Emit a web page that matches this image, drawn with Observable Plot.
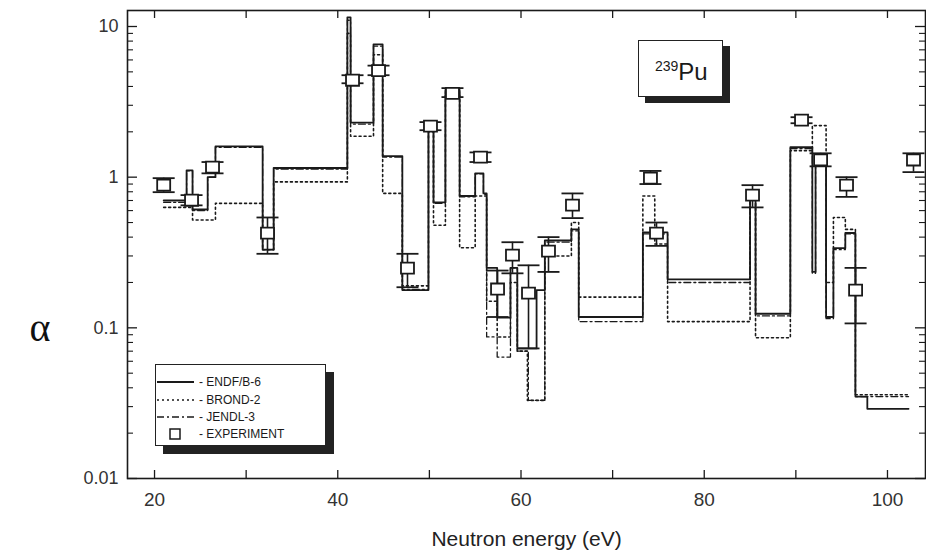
<!DOCTYPE html>
<html><head><meta charset="utf-8">
<script src="https://cdn.jsdelivr.net/npm/d3@7"></script>
<script src="https://cdn.jsdelivr.net/npm/@observablehq/plot@0.6"></script>
<style>
html,body{margin:0;padding:0;background:#fff;}
#wrap{position:relative;width:926px;height:558px;overflow:hidden;font-family:"Liberation Sans",Arial,sans-serif;color:#1a1a1a;}
#legend{position:absolute;left:155px;top:364px;width:171px;height:82px;background:#fff;border:1.5px solid #222;box-shadow:8px 8px 0 #222;box-sizing:border-box;}
.row{position:absolute;left:0;height:16px;display:flex;align-items:center;font-size:12px;white-space:nowrap;}
.row svg{display:block;margin-right:3px;}
#pu{position:absolute;left:638px;top:40px;width:85px;height:57px;background:#fff;border:1.5px solid #222;box-shadow:7px 6px 0 #222;box-sizing:border-box;}
#pu span.t{position:absolute;left:16px;top:17px;font-size:24px;}
#pu sup{font-size:14px;vertical-align:9px;}
</style>
</head><body>
<div id="wrap">
  <div id="chart"></div>
  <div id="pu"><span class="t"><sup>239</sup>Pu</span></div>
  <div id="legend"></div>
</div>
<script>
// ---------- data ----------
// ENDF/B-6 (solid): bin edges (eV) and alpha per bin
const endfEdges = [21.0,23.5,24.15,25.8,26.65,31.8,33.0,41.05,41.4,43.9,44.9,47.05,49.9,50.45,51.75,53.3,55.0,55.9,56.25,57.4,58.85,59.6,61.7,62.6,65.5,66.3,73.3,76.0,85.0,85.6,89.4,91.8,92.15,93.3,94.1,95.4,96.5,97.8,102.3];
const endfVals  = [0.70,1.11,0.61,1.0,1.60,0.33,1.15,11.5,2.3,7.6,1.38,0.178,2.1,0.68,3.8,0.75,1.06,0.78,0.25,0.117,0.25,0.073,0.178,0.38,0.45,0.118,0.43,0.21,0.76,0.124,1.58,0.235,1.4,0.118,0.338,0.426,0.035,0.029];

// BROND-2 (dotted)
const brondEdges = [21.0,24.15,26.65,31.8,33.0,41.05,41.4,43.9,44.9,47.05,49.9,50.45,51.75,53.3,55.0,56.25,57.4,58.85,59.6,60.7,62.6,65.5,66.3,73.3,74.6,76.0,85.0,85.6,89.4,91.8,93.3,94.1,95.4,96.5,102.3];
const brondVals  = [0.63,0.52,0.67,0.33,0.93,9.0,1.87,6.5,0.78,0.19,2.0,0.48,3.5,0.34,0.75,0.15,0.087,0.2,0.07,0.033,0.30,0.50,0.16,0.75,0.36,0.11,0.8,0.086,1.5,2.2,0.2,0.54,0.45,0.036];

// JENDL-3 (dash-dot)
const jendlEdges = [21.0,23.5,24.15,25.8,26.65,31.8,33.0,41.05,41.4,43.9,44.9,47.05,49.9,50.45,51.75,53.3,55.0,55.9,56.25,57.4,58.85,59.6,60.8,62.6,65.5,66.3,73.3,76.0,85.0,85.6,89.4,91.8,92.15,93.3,94.1,95.4,96.5,102.3];
const jendlVals  = [0.68,1.1,0.6,1.0,1.58,0.33,1.13,11.0,2.25,7.4,1.36,0.18,2.05,0.67,3.7,0.74,1.05,0.77,0.087,0.064,0.25,0.07,0.033,0.37,0.44,0.11,0.42,0.20,0.75,0.12,1.55,0.23,1.35,0.115,0.33,0.42,0.035];

// Experiment
const expE  = [21.0,24.04,26.33,32.33,41.61,44.45,47.61,50.12,52.52,55.58,57.44,59.07,60.82,63.0,65.62,74.13,74.79,85.27,90.62,92.7,95.53,96.52,102.84];
const expA  = [0.885,0.703,1.165,0.425,4.4,5.1,0.249,2.18,3.6,1.357,0.181,0.304,0.170,0.323,0.652,0.985,0.425,0.760,2.39,1.30,0.885,0.178,1.30];
const expLo = [0.795,0.65,1.06,0.31,4.2,4.75,0.186,2.05,3.4,1.26,0.118,0.23,0.073,0.235,0.535,0.90,0.35,0.63,2.28,1.18,0.74,0.107,1.08];
const expHi = [0.985,0.76,1.26,0.54,4.75,5.5,0.31,2.32,3.9,1.46,0.24,0.37,0.26,0.40,0.78,1.10,0.50,0.885,2.5,1.44,1.0,0.25,1.44];

// axis ticks
const yMajor = [0.01,0.1,1,10];
const yMinor = [2,3,4,5,6,7,8,9].flatMap(m => [0.01,0.1,1].map(d => m*d));
const xTicks = [20,30,40,50,60,70,80,90,100];
const xLabels = [20,40,60,80,100];

// ---------- build ----------
const toSteps = (edges, vals) => edges.map((e,i) => ({e, a: vals[Math.min(i, vals.length-1)]}));
const endf = toSteps(endfEdges, endfVals);
const brond = toSteps(brondEdges, brondVals);
const jendl = toSteps(jendlEdges, jendlVals);
const exp = expE.map((e,i) => ({e, a: expA[i], lo: expLo[i], hi: expHi[i]}));
const caps = exp.flatMap(d => [{e:d.e, v:d.lo},{e:d.e, v:d.hi}]);

const capSym = {draw(ctx, size){const r=Math.sqrt(size/Math.PI); ctx.moveTo(-r,0); ctx.lineTo(r,0);}};
const sqSym = {draw(ctx, size){const r=Math.sqrt(size/Math.PI); ctx.rect(-r,-r*0.85,2*r,1.7*r);}};

const W = 926, H = 558, mL = 127, mR = 1, mT = 10, mB = 80;
const pw = W - mL - mR, ph = H - mT - mB;
const ink = "#1a1a1a";

const chart = Plot.plot({
  width: W, height: H,
  marginLeft: mL, marginRight: mR, marginTop: mT, marginBottom: mB,
  style: {fontFamily: "'Liberation Sans', Arial, sans-serif", fontSize: "18px", color: ink, background: "#fff"},
  x: {type: "linear", domain: [17.05, 104.15], axis: null},
  y: {type: "log", domain: [0.01, 12.77], axis: null},
  marks: [
    // ticks (inward)
    Plot.tickY(yMajor, {y: d => d, insetRight: pw - 10, stroke: ink, strokeWidth: 1.3}),
    Plot.tickY(yMinor, {y: d => d, insetRight: pw - 6, stroke: ink, strokeWidth: 1.1}),
    Plot.tickY(yMajor, {y: d => d, insetLeft: pw - 10, stroke: ink, strokeWidth: 1.3}),
    Plot.tickY(yMinor, {y: d => d, insetLeft: pw - 6, stroke: ink, strokeWidth: 1.1}),
    Plot.tickX(xTicks, {x: d => d, insetTop: ph - 8, stroke: ink, strokeWidth: 1.3}),
    Plot.tickX(xTicks, {x: d => d, insetBottom: ph - 8, stroke: ink, strokeWidth: 1.3}),
    Plot.axisY(yMajor, {tickSize: 0, tickPadding: 9, tickFormat: d => String(d), label: null, fontSize: 18, fill: "#333"}),
    Plot.axisX(xLabels, {tickSize: 0, tickPadding: 14, tickFormat: d => String(d), label: null, fontSize: 19, fill: "#333"}),
    Plot.text(["Neutron energy (eV)"], {text: d => d, frameAnchor: "bottom", dy: 67, fontSize: 21, fill: "#222"}),
    Plot.text(["α"], {text: d => d, frameAnchor: "left", dx: -98, dy: 84, fontSize: 40, fontFamily: "'Liberation Serif', serif", fill: "#111"}),
    // evaluations
    Plot.line(brond, {x: "e", y: "a", curve: "step-after", stroke: ink, strokeWidth: 1.6, strokeDasharray: "2,3"}),
    Plot.line(jendl, {x: "e", y: "a", curve: "step-after", stroke: ink, strokeWidth: 1.3, strokeDasharray: "7,3,2,3"}),
    Plot.line(endf, {x: "e", y: "a", curve: "step-after", stroke: ink, strokeWidth: 1.8}),
    // experiment
    Plot.ruleX(exp, {x: "e", y1: "lo", y2: "hi", stroke: ink, strokeWidth: 1.6}),
    Plot.dot(caps, {x: "e", y: "v", symbol: capSym, r: 11, stroke: ink, strokeWidth: 1.8, fill: "none"}),
    Plot.dot(exp, {x: "e", y: "a", symbol: sqSym, r: 6.5, stroke: ink, strokeWidth: 1.8, fill: "#fff"}),
    Plot.frame({stroke: ink, strokeWidth: 1.6})
  ]
});
document.getElementById("chart").append(chart);

// legend
const legendItems = [
  {label: "- ENDF/B-6", dash: null, top: 9},
  {label: "- BROND-2", dash: "2,3", top: 27},
  {label: "- JENDL-3", dash: "7,3,2,3", top: 44},
  {label: "- EXPERIMENT", square: true, top: 61}
];
const lg = document.getElementById("legend");
for (const it of legendItems) {
  const row = document.createElement("div");
  row.className = "row";
  row.style.top = it.top + "px";
  const svg = d3.create("svg").attr("width", 40).attr("height", 16);
  if (it.square) {
    svg.append("rect").attr("x", 14).attr("y", 3).attr("width", 10).attr("height", 10)
      .attr("fill", "#fff").attr("stroke", ink).attr("stroke-width", 1.5);
  } else {
    svg.append("line").attr("x1", 1).attr("x2", 38).attr("y1", 8).attr("y2", 8)
      .attr("stroke", ink).attr("stroke-width", it.dash ? 1.3 : 1.8)
      .attr("stroke-dasharray", it.dash);
  }
  row.append(svg.node());
  const t = document.createElement("span");
  t.textContent = it.label;
  row.append(t);
  lg.append(row);
}
</script>
</body></html>
